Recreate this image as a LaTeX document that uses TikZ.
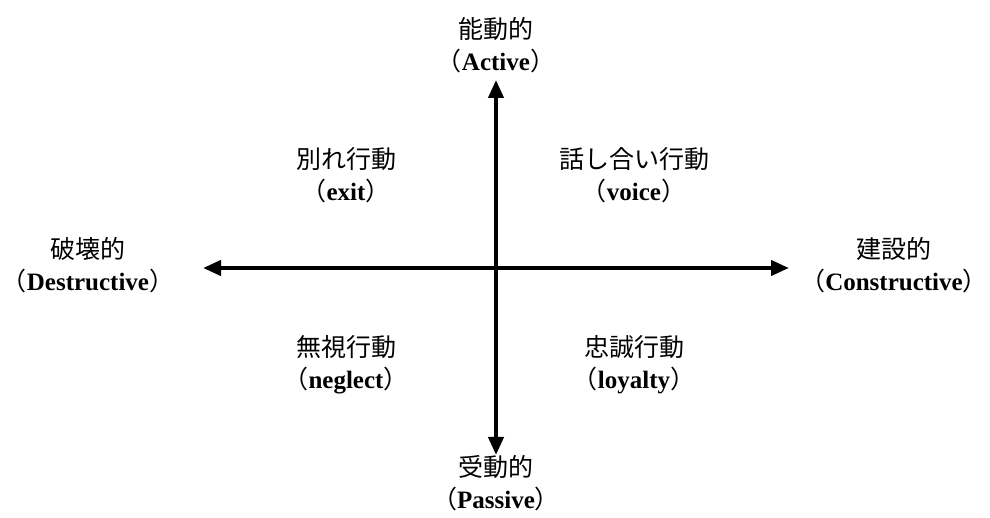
\documentclass[tikz,border=0pt]{standalone}
\usepackage{fontspec}
\setmainfont{Liberation Serif}
\newfontfamily\cjk{Noto Sans CJK JP}
\usetikzlibrary{arrows.meta}
\tikzset{
  axis/.style={line width=4pt, {Triangle[length=18pt,width=15pt]}-{Triangle[length=18pt,width=15pt]}},
  lbl/.style={align=center, font=\fontsize{25}{32}\selectfont, inner sep=0pt}
}
\newcommand{\pl}[2]{{\cjk #1}\\{\cjk （}\textbf{#2}{\cjk ）}}
\begin{document}
\begin{tikzpicture}[x=1pt,y=1pt]
\useasboundingbox (0,0) rectangle (990,518);
\coordinate (T) at (496,438);
\coordinate (B) at (496,63);
\coordinate (L) at (203,250);
\coordinate (R) at (789,250);
\draw[axis] (B) -- (T);
\draw[axis] (L) -- (R);
\node[lbl] (act) at (496,473) {\pl{能動的}{Active}};
\node[lbl] (pas) at (496,35) {\pl{受動的}{Passive}};
\node[lbl] (des) at (88,253) {\pl{破壊的}{Destructive}};
\node[lbl] (con) at (894,253) {\pl{建設的}{Constructive}};
\node[lbl] (exit) at (346,343) {\pl{別れ行動}{exit}};
\node[lbl] (voice) at (634,343) {\pl{話し合い行動}{voice}};
\node[lbl] (negl) at (346,153) {\pl{無視行動}{neglect}};
\node[lbl] (loy) at (634,153) {\pl{忠誠行動}{loyalty}};
\end{tikzpicture}
\end{document}
